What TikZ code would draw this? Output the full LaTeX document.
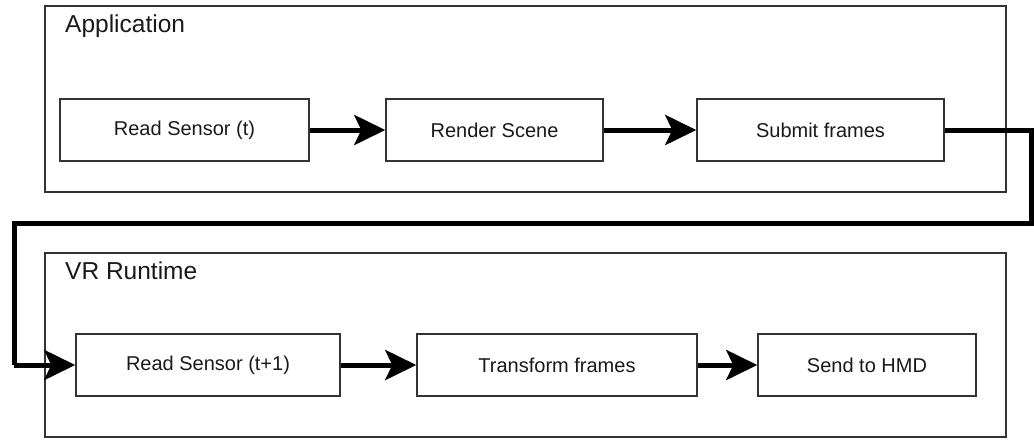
\documentclass[tikz,border=0pt]{standalone}
\usepackage{fontspec}
\setmainfont{Liberation Sans}
\usetikzlibrary{arrows.meta}
\begin{document}
\begin{tikzpicture}[x=1pt,y=-1pt,
  group/.style={draw=black!80,line width=1.5pt},
  grouptitle/.style={anchor=base west,inner sep=0pt,font=\fontsize{24.5}{28}\selectfont,text=black!90},
  stepbox/.style={draw=black!80,line width=1.5pt,minimum height=62pt,inner sep=0pt,
    font=\fontsize{20}{24}\selectfont,text=black!90},
  flow/.style={line width=5pt,-{Stealth[length=31pt,width=30pt,inset=7pt]}},
  wire/.style={line width=5pt,line join=miter}]
\useasboundingbox (0,0) rectangle (1034,440);

% containers
\draw[group] (45,6) rectangle (1006,192);
\node[grouptitle] (apptitle) at (65,32) {Application};
\draw[group] (45,253) rectangle (1006,437);
\node[grouptitle] (vrtitle) at (65,279) {VR Runtime};

% application steps
\node[stepbox,minimum width=249pt] (rs1) at (184.5,130) {Read Sensor (t)};
\node[stepbox,minimum width=217pt] (rend) at (494.5,130) {Render Scene};
\node[stepbox,minimum width=247pt] (sub) at (820.5,130) {Submit frames};

% runtime steps
\node[stepbox,minimum width=264pt] (rs2) at (208,365) {Read Sensor (t+1)};
\node[stepbox,minimum width=280pt] (xf) at (557,365) {Transform frames};
\node[stepbox,minimum width=218pt] (hmd) at (867,365) {Send to HMD};

\draw[flow] (rs1) -- (rend);
\draw[flow] (rend) -- (sub);
\draw[flow] (rs2) -- (xf);
\draw[flow] (xf) -- (hmd);

% hand-over from the application to the runtime
\coordinate (r1) at (1031,130);
\coordinate (r2) at (1031,223.5);
\coordinate (l1) at (14,223.5);
\coordinate (l2) at (14,365);
\draw[wire] (sub.east) -- (r1) -- (r2) -- (l1) -- (l2);
\draw[flow] (l2) -- (rs2.west);
\end{tikzpicture}
\end{document}
